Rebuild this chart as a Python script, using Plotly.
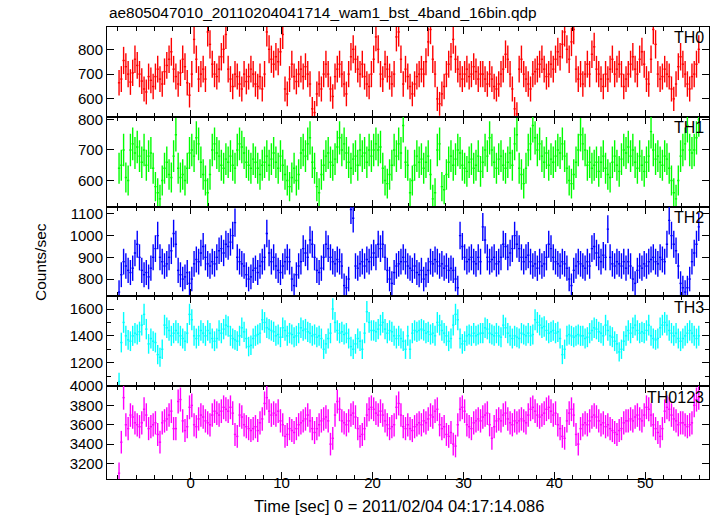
import plotly.graph_objects as go
import math

# ---------------- data (count rates, 0.25 s bins starting at t = -8 s) ----------------
BIN_WIDTH = 0.25
T_START = -8.0

th0 = [
    665, 680, 755, 730, 700, 668, 705, 760, 735, 700, 672, 640, 628, 690, 675, 650,
    690, 720, 680, 660, 710, 735, 760, 790, 720, 690, 660, 705, 760, 730, 665, 615,
    700, 840, 760, 680, 700, 720, 680, 870, 820, 740, 700, 690, 720, 770, 800, 860,
    720, 680, 650, 700, 690, 660, 640, 700, 670, 690, 720, 700, 660, 650, 690, 640,
    700, 870, 800, 760, 740, 770, 750, 790, 860, 640, 620, 680, 740, 690, 670, 700,
    720, 690, 730, 700, 660, 560, 545, 620, 660, 640, 700, 740, 700, 640, 610, 690,
    720, 740, 700, 660, 620, 700, 770, 800, 760, 720, 700, 740, 690, 660, 650, 700,
    760, 850, 800, 700, 680, 740, 720, 690, 660, 700, 850, 870, 760, 660, 720, 690,
    650, 620, 660, 690, 700, 720, 700, 750, 830, 880, 760, 700, 600, 580, 620, 650,
    700, 740, 770, 840, 760, 720, 700, 680, 700, 720, 690, 700, 730, 710, 680, 700,
    700, 680, 660, 700, 680, 650, 640, 660, 700, 720, 780, 760, 700, 640, 560, 540,
    720, 760, 700, 680, 660, 640, 700, 710, 720, 740, 760, 720, 690, 700, 740, 720,
    760, 790, 770, 820, 870, 800, 760, 830, 880, 720, 680, 700, 660, 700, 740, 700,
    780, 810, 720, 700, 680, 650, 700, 680, 720, 760, 700, 720, 740, 700, 650, 680,
    700, 740, 770, 720, 700, 760, 790, 740, 680, 660, 760, 880, 820, 700, 680, 690,
    720, 700, 690, 640, 600, 660, 730, 770, 740, 700, 660, 640, 690, 700, 740, 800,
]

th1 = [
    640, 650, 700, 610, 600, 700, 720, 690, 710, 680, 660, 700, 650, 680, 690, 640,
    580, 560, 540, 600, 640, 660, 620, 610, 680, 750, 640, 610, 620, 600, 640, 690,
    700, 680, 740, 720, 660, 620, 600, 560, 620, 700, 720, 690, 680, 650, 640, 670,
    660, 680, 650, 640, 700, 720, 710, 690, 660, 650, 640, 670, 660, 640, 620, 650,
    660, 680, 650, 670, 690, 660, 640, 680, 650, 620, 600, 580, 610, 640, 600, 620,
    690, 700, 680, 720, 740, 660, 640, 580, 560, 620, 650, 680, 690, 660, 650, 670,
    710, 740, 700, 720, 690, 660, 640, 670, 680, 650, 700, 680, 690, 660, 700, 680,
    700, 720, 700, 710, 640, 600, 590, 620, 650, 700, 680, 720, 690, 780, 660, 650,
    560, 600, 650, 680, 660, 670, 640, 660, 680, 620, 540, 560, 700, 720, 580, 570,
    620, 660, 680, 650, 670, 700, 690, 650, 640, 630, 660, 670, 640, 650, 680, 630,
    660, 700, 680, 740, 700, 660, 640, 670, 680, 650, 640, 660, 690, 650, 720, 750,
    640, 620, 590, 640, 700, 720, 780, 740, 700, 720, 680, 660, 690, 650, 670, 660,
    680, 700, 690, 720, 680, 640, 600, 590, 620, 660, 700, 750, 720, 700, 650, 660,
    640, 650, 660, 630, 660, 680, 640, 620, 610, 660, 680, 650, 630, 670, 700, 690,
    710, 680, 700, 660, 640, 680, 650, 630, 660, 680, 760, 700, 670, 680, 660, 650,
    680, 670, 640, 600, 560, 540, 600, 680, 700, 720, 780, 700, 690, 700, 740, 800,
]

th2 = [
    740, 820, 880, 860, 840, 830, 850, 920, 960, 900, 840, 820, 830, 810, 850, 900,
    940, 1000, 900, 880, 860, 870, 900, 930, 1010, 960, 840, 820, 800, 810, 830, 780,
    800, 870, 890, 880, 920, 950, 900, 870, 860, 880, 870, 900, 930, 940, 920, 960,
    950, 970, 1000, 1060, 900, 880, 870, 860, 820, 800, 810, 840, 850, 830, 860, 880,
    900, 1010, 920, 880, 900, 860, 840, 830, 860, 880, 900, 880, 800, 770, 820, 860,
    880, 940, 920, 900, 980, 960, 900, 840, 830, 850, 900, 960, 940, 900, 880, 870,
    890, 880, 860, 770, 760, 800, 1120, 1080, 860, 850, 870, 880, 860, 890, 880, 900,
    920, 900, 960, 940, 960, 900, 840, 800, 780, 830, 860, 870, 880, 900, 880, 860,
    850, 840, 860, 830, 820, 840, 800, 820, 840, 880, 870, 890, 880, 860, 870, 850,
    860, 840, 850, 840, 800, 760, 1000, 950, 900, 880, 890, 900, 880, 870, 900, 880,
    1040, 980, 900, 880, 890, 900, 870, 880, 900, 960, 950, 900, 920, 940, 1000, 960,
    940, 900, 880, 900, 910, 880, 860, 870, 850, 880, 860, 870, 900, 960, 940, 900,
    880, 870, 860, 880, 870, 850, 800, 770, 840, 860, 880, 870, 860, 850, 880, 860,
    940, 950, 920, 900, 880, 910, 900, 1030, 900, 870, 860, 880, 870, 860, 880, 850,
    880, 860, 800, 780, 840, 860, 850, 870, 860, 880, 890, 900, 880, 870, 900, 890,
    880, 960, 1070, 1000, 960, 930, 860, 780, 760, 740, 760, 800, 880, 920, 960, 1040,
]

th3 = [
    1060, 1350, 1500, 1400, 1370, 1360, 1400, 1420, 1410, 1430, 1480, 1560, 1450, 1340, 1380, 1360,
    1350, 1260, 1240, 1300, 1480, 1460, 1440, 1400, 1420, 1440, 1420, 1400, 1380, 1360, 1420, 1560,
    1520, 1400, 1380, 1400, 1440, 1420, 1400, 1440, 1420, 1380, 1360, 1380, 1440, 1420, 1450, 1480,
    1470, 1400, 1380, 1370, 1360, 1400, 1460, 1430, 1380, 1320, 1330, 1380, 1400, 1410, 1420, 1520,
    1500, 1460, 1450, 1440, 1430, 1400, 1410, 1390, 1460, 1440, 1400, 1420, 1410, 1390, 1400, 1420,
    1460, 1440, 1450, 1430, 1420, 1400, 1410, 1390, 1400, 1380, 1300, 1340, 1380, 1420, 1600, 1500,
    1440, 1420, 1430, 1410, 1420, 1380, 1320, 1300, 1340, 1380, 1360, 1300, 1420, 1580, 1500, 1440,
    1440, 1430, 1450, 1480, 1500, 1450, 1420, 1440, 1430, 1400, 1380, 1400, 1380, 1360, 1300, 1400,
    1300, 1420, 1440, 1430, 1440, 1450, 1440, 1420, 1430, 1410, 1420, 1400, 1500, 1480, 1440, 1420,
    1400, 1360, 1380, 1480, 1560, 1520, 1380, 1340, 1360, 1400, 1410, 1400, 1420, 1400, 1410, 1420,
    1420, 1460, 1450, 1420, 1410, 1400, 1420, 1400, 1390, 1480, 1460, 1420, 1400, 1380, 1400, 1390,
    1380, 1420, 1410, 1400, 1420, 1400, 1410, 1520, 1500, 1480, 1460, 1470, 1440, 1420, 1430, 1440,
    1420, 1430, 1380, 1260, 1300, 1400, 1410, 1400, 1390, 1400, 1410, 1400, 1400, 1380, 1390, 1420,
    1440, 1460, 1450, 1430, 1420, 1400, 1480, 1440, 1400, 1390, 1360, 1340, 1280, 1300, 1360, 1400,
    1440, 1420, 1460, 1480, 1440, 1420, 1430, 1420, 1440, 1480, 1400, 1380, 1370, 1380, 1460, 1480,
    1500, 1480, 1440, 1420, 1400, 1420, 1380, 1360, 1380, 1400, 1420, 1440, 1420, 1400, 1380, 1400,
]

th0123 = [
    3100, 3420, 3880, 3600, 3560, 3700, 3680, 3620, 3600, 3580, 3620, 3760, 3700, 3560, 3580, 3600,
    3620, 3500, 3420, 3620, 3640, 3660, 3700, 3740, 3560, 3560, 3840, 3860, 3640, 3540, 3580, 3780,
    3800, 3600, 3580, 3660, 3700, 3680, 3640, 3620, 3600, 3700, 3740, 3720, 3700, 3740, 3780, 3760,
    3740, 3780, 3720, 3500, 3480, 3700, 3680, 3600, 3580, 3560, 3540, 3560, 3580, 3540, 3620, 3660,
    3820, 3880, 3740, 3700, 3720, 3700, 3740, 3640, 3600, 3480, 3500, 3560, 3540, 3520, 3560, 3600,
    3620, 3640, 3660, 3700, 3640, 3560, 3520, 3560, 3600, 3640, 3660, 3680, 3640, 3400, 3460, 3700,
    3840, 3760, 3640, 3620, 3600, 3640, 3700, 3720, 3680, 3560, 3480, 3500, 3560, 3700, 3760, 3780,
    3760, 3720, 3700, 3740, 3700, 3640, 3600, 3560, 3580, 3600, 3780, 3820, 3700, 3580, 3560, 3600,
    3560, 3540, 3580, 3600, 3620, 3600, 3640, 3620, 3660, 3700, 3680, 3740, 3760, 3600, 3560, 3580,
    3500, 3480, 3520, 3400, 3380, 3600, 3760, 3780, 3740, 3600, 3580, 3560, 3620, 3640, 3660, 3640,
    3680, 3700, 3720, 3600, 3460, 3580, 3640, 3660, 3640, 3700, 3720, 3660, 3620, 3600, 3640, 3620,
    3640, 3660, 3640, 3620, 3700, 3760, 3780, 3740, 3700, 3680, 3700, 3720, 3760, 3780, 3740, 3700,
    3720, 3600, 3560, 3480, 3460, 3640, 3720, 3760, 3700, 3500, 3400, 3560, 3600, 3620, 3600, 3640,
    3680, 3700, 3680, 3640, 3600, 3620, 3580, 3600, 3560, 3540, 3520, 3500, 3540, 3560, 3620, 3640,
    3640, 3660, 3640, 3680, 3700, 3660, 3640, 3700, 3780, 3760, 3700, 3600, 3560, 3520, 3480, 3560,
    3740, 3780, 3760, 3700, 3660, 3640, 3600, 3620, 3620, 3600, 3580, 3600, 3620, 3800, 3860, 3880,
]

panel_names = ["TH0", "TH1", "TH2", "TH3", "TH0123"]
panel_series = [th0, th1, th2, th3, th0123]
panel_colors = ["#ff0000", "#00ff00", "#0000ff", "#00ffff", "#ff00ff"]
y_ranges = [[527, 890], [515, 808], [722, 1134], [1026, 1697], [3040, 4000]]
y_dticks = [100, 100, 100, 200, 200]

TITLE = "ae805047010_20110204041714_wam1_bst_4band_16bin.qdp"
X_TITLE = "Time [sec] 0 = 2011/02/04 04:17:14.086"
Y_TITLE = "Counts/sec"
X_RANGE = [-9.2, 57.0]

# ---------------- layout geometry (page pixels; body margin removed) ----------------
W, H = 717, 516
PLOT_L, PLOT_R, PLOT_T, PLOT_B = 107, 709, 27, 479
ML, MR, MT, MB = PLOT_L, W - PLOT_R, PLOT_T, H - PLOT_B
PW = PLOT_R - PLOT_L
PH = PLOT_B - PLOT_T
bounds_px = [27, 117, 206.5, 296, 386, 479]


def py(p):
    return (PLOT_B - p) / PH


def px(p):
    return (p - PLOT_L) / PW


FONT = "Liberation Sans, Arial, Helvetica, sans-serif"

fig = go.Figure()
layout = dict(
    width=W, height=H,
    margin=dict(l=ML, r=MR, t=MT, b=MB, autoexpand=False),
    paper_bgcolor="white", plot_bgcolor="white",
    showlegend=False,
    font=dict(family=FONT, size=15, color="black"),
)

annotations = []
for k, (name, vals, col) in enumerate(zip(panel_names, panel_series, panel_colors)):
    n = len(vals)
    t = [T_START + BIN_WIDTH * (i + 0.5) for i in range(n)]
    err = [2.0 * math.sqrt(v) for v in vals]  # Poisson errors for 0.25 s bins
    xa = "x" if k == 0 else f"x{k+1}"
    ya = "y" if k == 0 else f"y{k+1}"
    fig.add_trace(go.Scatter(
        x=t, y=vals, mode="markers", xaxis=xa, yaxis=ya,
        marker=dict(size=0, color=col, opacity=0),
        error_y=dict(type="data", array=err, visible=True, width=0, thickness=1.4, color=col),
        error_x=dict(type="constant", value=BIN_WIDTH / 2, visible=True, width=0, thickness=1.4, color=col),
        hoverinfo="skip",
    ))
    top = py(bounds_px[k])
    bot = py(bounds_px[k + 1])
    xkey = "xaxis" if k == 0 else f"xaxis{k+1}"
    ykey = "yaxis" if k == 0 else f"yaxis{k+1}"
    layout[xkey] = dict(
        domain=[0, 1], anchor=ya, range=X_RANGE, showgrid=False, zeroline=False,
        showline=True, linecolor="black", linewidth=1, mirror="allticks",
        ticks="inside", ticklen=7, tickwidth=1, tickcolor="black", dtick=10, tick0=0,
        minor=dict(ticks="inside", ticklen=4, dtick=2, tick0=0, tickcolor="black", showgrid=False),
        showticklabels=(k == 4), tickfont=dict(size=15),
    )
    if k == 4:
        layout[xkey]["ticklabelstandoff"] = -10
    if k > 0:
        layout[xkey]["matches"] = "x"
    ymin, ymax = y_ranges[k]
    ydict = dict(
        domain=[bot, top], anchor=xa, range=[ymin, ymax], showgrid=False, zeroline=False,
        showline=True, linecolor="black", linewidth=1, mirror="allticks",
        ticks="inside", ticklen=7, tickwidth=1, tickcolor="black",
        dtick=y_dticks[k], tick0=0, tickfont=dict(size=15),
    )
    if k == 3:
        ydict["minor"] = dict(ticks="inside", ticklen=4, dtick=100, tick0=0, tickcolor="black", showgrid=False)
    layout[ykey] = ydict
    annotations.append(dict(
        text=name, xref="paper", yref="paper", x=px(706), y=py(bounds_px[k] + 11),
        xanchor="right", yanchor="middle", showarrow=False, font=dict(size=16, color="black"),
    ))

annotations.append(dict(text=TITLE, xref="paper", yref="paper", x=px(107), y=py(12),
                        xanchor="left", yanchor="middle", showarrow=False, font=dict(size=15.4)))
annotations.append(dict(text=X_TITLE, xref="paper", yref="paper", x=px(399), y=py(506),
                        xanchor="center", yanchor="middle", showarrow=False, font=dict(size=16.5)))
annotations.append(dict(text=Y_TITLE, xref="paper", yref="paper", x=px(40), y=py(262),
                        xanchor="center", yanchor="middle", textangle=-90, showarrow=False, font=dict(size=15.5)))
layout["annotations"] = annotations

fig.update_layout(**layout)
fig.write_html("out.html", config={"displayModeBar": False},
               post_script="document.body.style.margin='0px';")
